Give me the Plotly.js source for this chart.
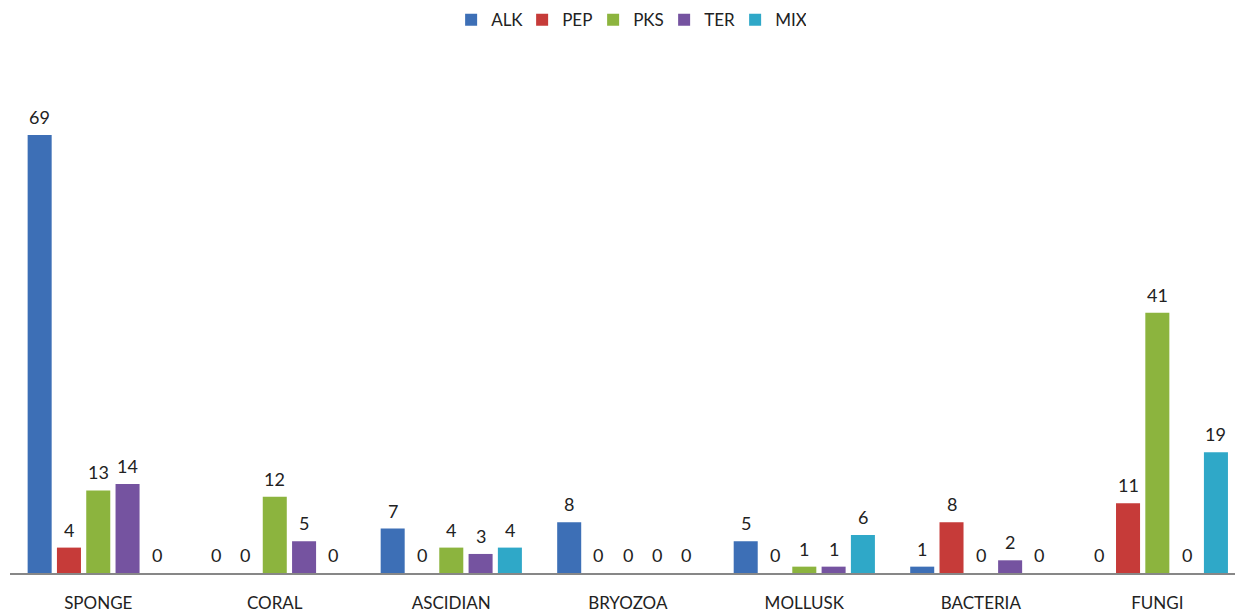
<!DOCTYPE html>
<html><head><meta charset="utf-8">
<script src="https://cdn.plot.ly/plotly-3.0.1.min.js"></script>
<style>html,body{margin:0;padding:0;background:#fff;}#chart{width:1235px;height:613px;}</style>
</head><body><div id="chart"></div>
<script>
const categories = ["SPONGE","CORAL","ASCIDIAN","BRYOZOA","MOLLUSK","BACTERIA","FUNGI"];
const seriesNames = ["ALK","PEP","PKS","TER","MIX"];
const ALK = [69, 0, 7, 8, 5, 1, 0];
const PEP = [4, 0, 0, 0, 0, 8, 11];
const PKS = [13, 12, 4, 0, 1, 0, 41];
const TER = [14, 5, 3, 0, 1, 2, 0];
const MIX = [0, 0, 4, 0, 6, 0, 19];
const colors = ["#3d6fb6","#c63b39","#8cb43e","#7553a0","#2fa8c8"];

const values = [ALK, PEP, PKS, TER, MIX];
const bargap = 0.17, bargroupgap = 0.18;
const slot = (1 - bargap) / seriesNames.length;
const xs = categories.map((c, j) => j);

const traces = values.map((v, i) => ({
  type: 'bar', name: seriesNames[i], x: xs, y: v,
  marker: {color: colors[i]}, hoverinfo: 'skip'
}));

const annotations = [];
values.forEach((v, i) => {
  v.forEach((val, j) => {
    annotations.push({
      x: j + (i - 2) * slot, y: val, xref: 'x', yref: 'y',
      text: String(val), showarrow: false, yanchor: 'bottom', yshift: 5,
      font: {family: 'Lato, sans-serif', size: 18, color: '#222'}
    });
  });
});

const layout = {
  width: 1235, height: 613,
  margin: {l: 10, r: 0, t: 60, b: 40, autoexpand: false},
  paper_bgcolor: '#fff', plot_bgcolor: '#fff',
  barmode: 'group', bargap: bargap, bargroupgap: bargroupgap,
  showlegend: true,
  legend: {orientation: 'h', x: 0.505, xanchor: 'center', yref: 'container', y: 0.967, yanchor: 'middle',
    font: {family: 'Lato, sans-serif', size: 17, color: '#222'}, itemwidth: 30, entrywidth: 26, traceorder: 'normal'},
  xaxis: {range: [-0.5, 6.44], tickmode: 'array', tickvals: xs, ticktext: categories,
    showline: true, linecolor: '#878787', linewidth: 1.5, showgrid: false, zeroline: false,
    ticks: '', ticklabelstandoff: 14, tickfont: {family: 'Lato, sans-serif', size: 17, color: '#222'}},
  yaxis: {range: [0, 80.8], visible: false, showgrid: false, zeroline: false},
  annotations: annotations
};
Plotly.newPlot('chart', traces, layout, {displayModeBar: false, staticPlot: true});
</script></body></html>
